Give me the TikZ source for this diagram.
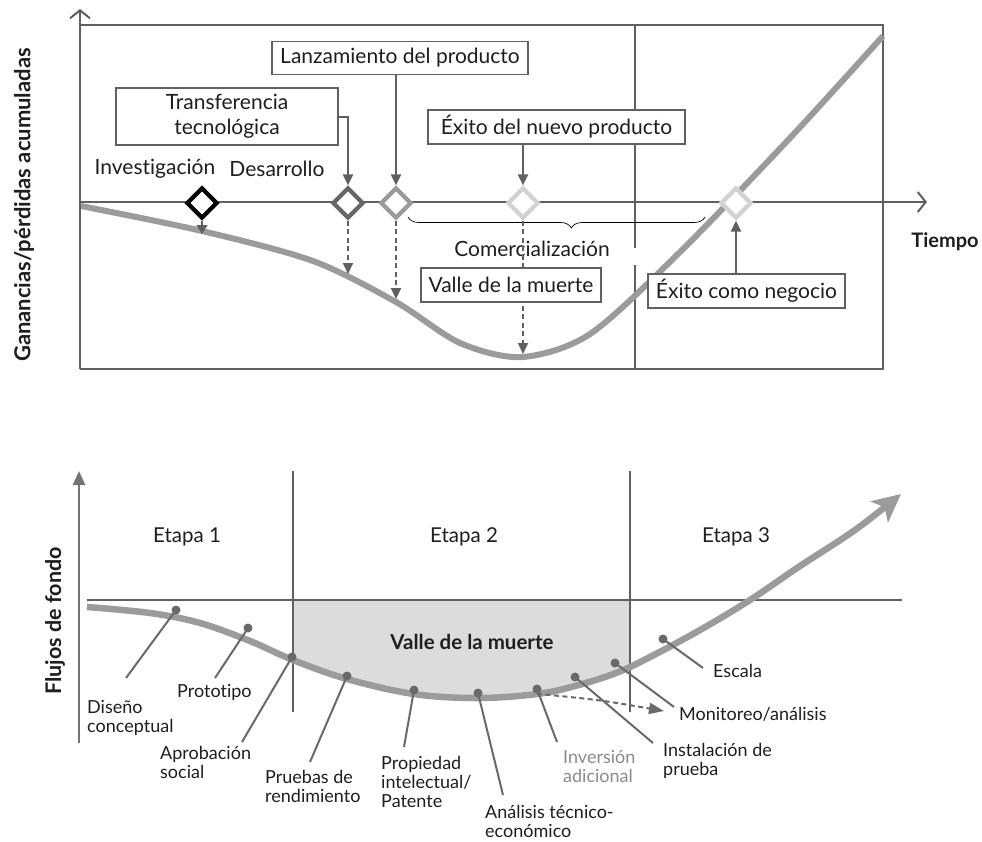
\documentclass[tikz,border=0pt]{standalone}
\usepackage{fontspec}
\setmainfont{Lato}[Ligatures=NoCommon]
\usetikzlibrary{arrows.meta,shapes.geometric,decorations.pathreplacing}

\definecolor{axisgray}{HTML}{606060}
\definecolor{lightaxis}{HTML}{737373}
\definecolor{curvegray}{HTML}{9B9B9B}
\definecolor{dotgray}{HTML}{696969}
\definecolor{valleyfill}{HTML}{DCDCDC}
\definecolor{diadark}{HTML}{666666}
\definecolor{diamid}{HTML}{9A9A9A}
\definecolor{dialight}{HTML}{D2D2D2}
\definecolor{softtext}{HTML}{8A8A8A}
\definecolor{inktext}{HTML}{1E1E1E}

\begin{document}
\begin{tikzpicture}[x=1pt,y=-1pt,
  every node/.style={text=inktext},
  topfont/.style={font=\fontsize{21}{25}\selectfont},
  lowfont/.style={font=\fontsize{18}{19}\selectfont},
  stagefont/.style={font=\fontsize{20.5}{22}\selectfont},
  labelbox/.style={draw=axisgray, line width=1.6pt, fill=white, inner sep=0pt,
    align=center, topfont},
  milestone/.style={diamond, draw, fill=white, line width=4.2pt,
    minimum size=31pt, inner sep=0pt},
  pointer/.style={axisgray, line width=2pt, -{Triangle[length=11pt,width=10pt]}},
  dashpointer/.style={pointer, dash pattern=on 5pt off 3.5pt},
  frameline/.style={axisgray, line width=2.2pt},
  openhead/.style={-{Straight Barb[length=8pt,width=20pt,line width=2pt]}},
  bigcurve/.style={curvegray, line width=6pt},
  stepdot/.style={circle, fill=dotgray, minimum size=9pt, inner sep=0pt},
  leader/.style={dotgray, line width=2pt},
  steplabel/.style={anchor=north west, inner sep=0pt, align=left, lowfont},
]
\useasboundingbox (0,0) rectangle (982,841);

% ---------------- upper chart: cumulative profit/loss ----------------
\draw[frameline] (80,25) -- (883,25) -- (883,369) -- (80,369);
\draw[axisgray, line width=1.2pt] (635,25) -- (635,248) (635,265) -- (635,369);

\draw[bigcurve] plot[smooth] coordinates {
  (81,206) (202,231) (313,261) (396,302) (460,343) (522,357)
  (590,334) (680,252) (790,138) (883,36)};

\draw[frameline, openhead] (80,369) -- (80,9);
\draw[frameline, openhead] (80,202) -- (927,202);

\node[font=\bfseries\fontsize{22}{24}\selectfont, rotate=90] (ylab) at (24,205)
  {Ganancias/pérdidas acumuladas};
\node[font=\bfseries\fontsize{20}{22}\selectfont] (xlab) at (945,242) {Tiempo};

\node[topfont] (inv) at (155,169) {Investigación};
\node[topfont] (dev) at (277,169) {Desarrollo};

% brace under the axis for the commercial phase
\draw[black, line width=0.7pt, decorate,
  decoration={brace, mirror, amplitude=11pt, aspect=0.55}]
  (408,217) -- (705,217);
\node[topfont] (com) at (532,249) {Comercialización};

% milestones on the time axis
\node[milestone, draw=black] (d1) at (202,203) {};
\node[milestone, draw=diadark] (d2) at (348,203) {};
\node[milestone, draw=diamid] (d3) at (396,203) {};
\node[milestone, draw=dialight] (d4) at (523,203) {};
\node[milestone, draw=dialight] (d5) at (736,203) {};

\coordinate (c1) at (202,234);
\coordinate (c2) at (348,274);
\coordinate (c3) at (396,299);
\coordinate (c4) at (523,354);

\draw[axisgray, line width=1.5pt, -{Triangle[length=9pt,width=11pt]}] (d1.south) -- (c1);
\draw[dashpointer] (d2.south) -- (c2);
\draw[dashpointer] (d3.south) -- (c3);
\draw[dashpointer] (d4.south) -- (c4);

% callout boxes
\node[labelbox, minimum width=222pt, minimum height=57pt] (tt) at (227,116.5)
  {Transferencia\\tecnológica};
\node[labelbox, minimum width=256pt, minimum height=33pt] (lp) at (400,58)
  {Lanzamiento del producto};
\node[labelbox, minimum width=257pt, minimum height=34pt] (en) at (556.5,127)
  {Éxito del nuevo producto};
\node[labelbox, minimum width=180pt, minimum height=34pt] (vm) at (511,285)
  {Valle de la muerte};
\node[labelbox, minimum width=197pt, minimum height=34pt] (ec) at (746.5,291)
  {Éxito como negocio};

\draw[pointer] (tt.east) -| (d2.north);
\draw[pointer] (d3 |- lp.south) -- (d3.north);
\draw[pointer] (d4 |- en.south) -- (d4.north);
\draw[pointer] (d5 |- ec.north) -- (d5.south);

% ---------------- lower chart: cash flow by stage ----------------
\begin{scope}
  \clip (293,600) rectangle (630,760);
  \fill[valleyfill] plot[smooth, tension=0.6] coordinates {
    (87,607) (150,613) (200,623) (250,641) (293,660) (347,679) (414,694)
    (478,698) (537,694) (575,686) (616,673) (650,657) (700,630) (750,600)
    (800,566) (855,530) (901,494)} -- (901,420) -- (87,420) -- cycle;
\end{scope}

\draw[axisgray, line width=2.2pt] (87,600) -- (902,600);
\draw[axisgray, line width=2.2pt] (293,471) -- (293,712);
\draw[axisgray, line width=2.2pt] (630,471) -- (630,712);
\draw[lightaxis, line width=2.5pt, -{Triangle[length=14pt,width=12pt]}] (79,743) -- (79,471);

\node[font=\bfseries\fontsize{21.5}{23}\selectfont, rotate=90] (flab) at (55,621)
  {Flujos de fondo};

\node[stagefont] (e1) at (187,537) {Etapa 1};
\node[stagefont] (e2) at (464,537) {Etapa 2};
\node[stagefont] (e3) at (736,537) {Etapa 3};
\node[font=\bfseries\fontsize{20.5}{22}\selectfont] (vt) at (472,642) {Valle de la muerte};

\draw[bigcurve, line width=6.5pt, -{Stealth[length=28pt,width=27pt,inset=7pt]}]
  plot[smooth, tension=0.6] coordinates {
    (87,607) (150,613) (200,623) (250,641) (293,660) (347,679) (414,694)
    (478,698) (537,694) (575,686) (616,673) (650,657) (700,630) (750,600)
    (800,566) (855,530) (901,494)};

% milestones of the process
\node[stepdot] (p1) at (176,610) {};
\node[stepdot] (p2) at (248,628) {};
\node[stepdot] (p3) at (292,657) {};
\node[stepdot] (p4) at (347,676) {};
\node[stepdot] (p5) at (414,690) {};
\node[stepdot] (p6) at (478,693) {};
\node[stepdot] (p7) at (537,689) {};
\node[stepdot] (p8) at (575,677) {};
\node[stepdot] (p9) at (615,663) {};
\node[stepdot] (p10) at (663,639) {};

\coordinate (q1) at (126,678);
\coordinate (q2) at (215,678);
\coordinate (q3) at (242,742);
\coordinate (q4) at (310,762);
\coordinate (q5) at (404,747);
\coordinate (q6) at (503,795);
\coordinate (q7) at (557,742);
\coordinate (q8) at (653,743);
\coordinate (q9) at (674,707);
\coordinate (q10) at (703,668);
\coordinate (ia) at (664,711);

\foreach \i in {1,...,10} \draw[leader] (p\i.center) -- (q\i);
\draw[dotgray, line width=2pt, dash pattern=on 5pt off 3.5pt,
  -{Triangle[length=15pt,width=11pt]}] (p7.south) .. controls (600,700) .. (ia);

\node[steplabel] (l1) at (87,700) {Diseño\\conceptual};
\node[steplabel] (l2) at (177,684) {Prototipo};
\node[steplabel] (l3) at (160,746) {Aprobación\\social};
\node[steplabel] (l4) at (265,770) {Pruebas de\\rendimiento};
\node[steplabel] (l5) at (381,756) {Propiedad\\intelectual/\\Patente};
\node[steplabel] (l6) at (485,805) {Análisis técnico-\\económico};
\node[steplabel, text=softtext] (l7) at (563,750) {Inversión\\adicional};
\node[steplabel] (l8) at (663,743) {Instalación de\\prueba};
\node[steplabel] (l9) at (679,707) {Monitoreo/análisis};
\node[steplabel] (l10) at (713,664) {Escala};
\end{tikzpicture}
\end{document}
